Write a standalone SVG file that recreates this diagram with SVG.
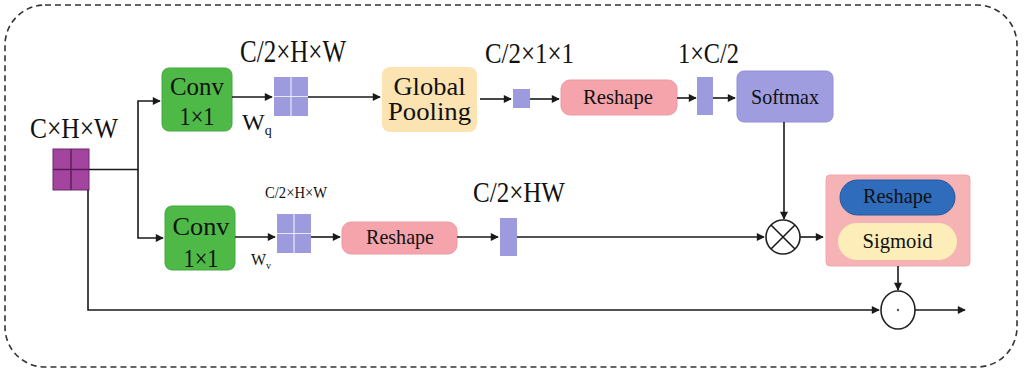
<svg xmlns="http://www.w3.org/2000/svg" width="1025" height="375" viewBox="0 0 1025 375" font-family="Liberation Serif, DejaVu Serif, serif">
<defs>
<marker id="ah" viewBox="0 0 10 10" refX="9" refY="5" markerWidth="9" markerHeight="8" markerUnits="userSpaceOnUse" orient="auto">
<path d="M0,0 L10,5 L0,10 z" fill="#1a1a1a"/>
</marker>
<style>
text{fill:#111;}
.ln{fill:none;stroke:#1a1a1a;stroke-width:1.6;}
.arr{fill:none;stroke:#1a1a1a;stroke-width:1.6;marker-end:url(#ah);}
.grid{stroke:#e8e8f8;stroke-width:1.2;}
.green{fill:#4fb947;stroke:#45a83e;stroke-width:1;}
.pink{fill:#f4a4aa;stroke:#eb9aa0;stroke-width:1;}
.lav{fill:#9d9bdd;}
.op{fill:#fff;stroke:#222;stroke-width:1.6;}
</style>
</defs>
<rect width="1025" height="375" fill="#fff"/>
<rect x="5" y="5" width="1012" height="362" rx="40" ry="40" fill="none" stroke="#333" stroke-width="1.6" stroke-dasharray="6 4"/>

<g id="input">
<rect x="53" y="149" width="36" height="41" fill="#a3449f"/>
<path d="M71,149 V190 M53,169.5 H89" stroke="#5a1a58" stroke-width="1.4"/>
<rect x="53" y="149" width="36" height="41" fill="none" stroke="#6a2a68" stroke-width="1"/>
<text x="30" y="138" font-size="30" textLength="88" lengthAdjust="spacingAndGlyphs">C×H×W</text>
</g>

<g id="conv_q">
<rect class="green" x="162" y="68" width="70" height="63" rx="7"/>
<text x="197" y="95" font-size="26" text-anchor="middle" textLength="54" lengthAdjust="spacingAndGlyphs">Conv</text>
<text x="197" y="125" font-size="26" text-anchor="middle" textLength="35" lengthAdjust="spacingAndGlyphs">1×1</text>
</g>
<text x="242" y="130" font-size="24">W<tspan font-size="14" dy="5">q</tspan></text>

<g id="feat_q">
<rect class="lav" x="274" y="77" width="34" height="39"/>
<path class="grid" d="M291,77 V116 M274,96.5 H308"/>
<text x="240" y="62" font-size="31" textLength="106" lengthAdjust="spacingAndGlyphs">C/2×H×W</text>
</g>

<g id="global_pooling">
<rect x="382" y="67" width="95" height="65" rx="8" fill="#fbe3b2"/>
<text x="429.5" y="95" font-size="25" text-anchor="middle" textLength="72" lengthAdjust="spacingAndGlyphs">Global</text>
<text x="429.5" y="120" font-size="25" text-anchor="middle" textLength="83" lengthAdjust="spacingAndGlyphs">Pooling</text>
</g>

<g id="vec_c2">
<rect class="lav" x="513" y="89" width="17" height="19"/>
<text x="485" y="63" font-size="30" textLength="89" lengthAdjust="spacingAndGlyphs">C/2×1×1</text>
</g>

<g id="reshape_q">
<rect class="pink" x="561" y="80" width="116" height="35" rx="9"/>
<text x="618" y="104" font-size="22" text-anchor="middle" textLength="70" lengthAdjust="spacingAndGlyphs">Reshape</text>
</g>

<g id="vec_1c2">
<rect class="lav" x="697" y="77" width="16" height="38"/>
<text x="678" y="63" font-size="30" textLength="61" lengthAdjust="spacingAndGlyphs">1×C/2</text>
</g>

<g id="softmax">
<rect x="737" y="71" width="96" height="51" rx="7" fill="#9f9ddf" stroke="#9290d2" stroke-width="1"/>
<text x="785" y="104" font-size="22" text-anchor="middle" textLength="68" lengthAdjust="spacingAndGlyphs">Softmax</text>
</g>

<g id="conv_v">
<rect class="green" x="165" y="206" width="70" height="64" rx="7"/>
<text x="201" y="235" font-size="26" text-anchor="middle" textLength="57" lengthAdjust="spacingAndGlyphs">Conv</text>
<text x="201" y="267" font-size="26" text-anchor="middle" textLength="35" lengthAdjust="spacingAndGlyphs">1×1</text>
</g>
<text x="251" y="265" font-size="16">W<tspan font-size="10" dy="4">v</tspan></text>

<g id="feat_v">
<rect class="lav" x="277" y="214" width="34" height="39"/>
<path class="grid" d="M294,214 V253 M277,233.5 H311"/>
<text x="265" y="198" font-size="16" textLength="62" lengthAdjust="spacingAndGlyphs">C/2×H×W</text>
</g>

<g id="reshape_v">
<rect class="pink" x="342" y="222" width="115" height="32" rx="9"/>
<text x="400" y="244" font-size="22" text-anchor="middle" textLength="68" lengthAdjust="spacingAndGlyphs">Reshape</text>
</g>

<g id="vec_hw">
<rect class="lav" x="500" y="218" width="17" height="38"/>
<text x="473" y="202" font-size="30" textLength="92" lengthAdjust="spacingAndGlyphs">C/2×HW</text>
</g>

<g id="matmul">
<circle class="op" cx="783" cy="237" r="17"/>
<path class="ln" d="M771,225 L795,249 M795,225 L771,249" stroke-width="1.3"/>
</g>

<g id="reshape_sigmoid">
<rect x="826" y="175" width="144" height="91" rx="4" fill="#f5b3b5" stroke="#eea8aa" stroke-width="1"/>
<rect x="840" y="180" width="115" height="35" rx="17.5" fill="#2f6cbc" stroke="#245a9e" stroke-width="1"/>
<text x="897.5" y="203" font-size="22" text-anchor="middle" textLength="69" lengthAdjust="spacingAndGlyphs">Reshape</text>
<rect x="838" y="223" width="119" height="37" rx="18.5" fill="#fdedb9"/>
<text x="897.5" y="248" font-size="22" text-anchor="middle" textLength="70" lengthAdjust="spacingAndGlyphs">Sigmoid</text>
</g>

<g id="hadamard">
<ellipse class="op" cx="898" cy="310" rx="17" ry="19"/>
<circle cx="898" cy="310" r="1.2" fill="#555"/>
</g>

<g id="connectors">
<path class="arr" d="M89,169.5 H138 V101 H160"/>
<path class="arr" d="M138,169.5 V238 H163"/>
<path class="arr" d="M88,190 V310 H879"/>
<path class="arr" d="M232,97 H272"/>
<path class="arr" d="M308,97 H380"/>
<path class="arr" d="M480,99 H511"/>
<path class="arr" d="M530,99 H559"/>
<path class="arr" d="M677,98 H696"/>
<path class="arr" d="M713,98 H735"/>
<path class="arr" d="M784,122 V219"/>
<path class="arr" d="M235,237 H275"/>
<path class="arr" d="M311,237 H340"/>
<path class="arr" d="M457,237 H498"/>
<path class="arr" d="M517,237 H764"/>
<path class="arr" d="M800,237 H823"/>
<path class="arr" d="M898,266 V290"/>
<path class="arr" d="M915,310 H965"/>
</g>
</svg>
